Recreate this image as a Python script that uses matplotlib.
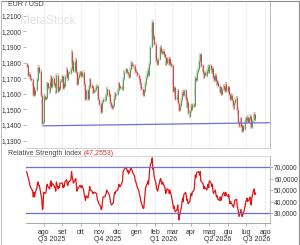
import numpy as np
import pandas as pd
import matplotlib
matplotlib.use('Agg')
import matplotlib.pyplot as plt
import matplotlib.dates as mdates
import matplotlib.transforms as mtransforms
from matplotlib.lines import Line2D

plt.rcParams['font.family'] = ['Liberation Sans', 'DejaVu Sans']

# Daily closes of EUR/USD, one list per month (business days)
close_jul25 = [1.1780, 1.1720, 1.1725, 1.1715, 1.1700, 1.1690, 1.1665, 1.1600, 1.1640, 1.1595,
               1.1625, 1.1690, 1.1750, 1.1770, 1.1740, 1.1745, 1.1590, 1.1545, 1.1410, 1.1420]
close_aug25 = [1.1585, 1.1570, 1.1575, 1.1660, 1.1665, 1.1640, 1.1615, 1.1675, 1.1705, 1.1645,
               1.1700, 1.1665, 1.1650, 1.1650, 1.1610, 1.1720, 1.1620, 1.1640, 1.1630, 1.1680, 1.1685]
close_sep25 = [1.1710, 1.1640, 1.1660, 1.1650, 1.1715, 1.1760, 1.1710, 1.1695, 1.1735, 1.1735,
               1.1760, 1.1865, 1.1810, 1.1785, 1.1745, 1.1800, 1.1815, 1.1740, 1.1665, 1.1700,
               1.1725, 1.1735]
close_oct25 = [1.1730, 1.1715, 1.1740, 1.1710, 1.1660, 1.1630, 1.1565, 1.1620, 1.1570, 1.1600,
               1.1645, 1.1690, 1.1655, 1.1645, 1.1610, 1.1610, 1.1620, 1.1625, 1.1645, 1.1650,
               1.1600, 1.1565, 1.1535]
close_nov25 = [1.1520, 1.1485, 1.1495, 1.1545, 1.1565, 1.1560, 1.1585, 1.1590, 1.1630, 1.1620,
               1.1595, 1.1580, 1.1545, 1.1525, 1.1510, 1.1520, 1.1570, 1.1600, 1.1595, 1.1600]
close_dec25 = [1.1610, 1.1625, 1.1665, 1.1645, 1.1640, 1.1640, 1.1630, 1.1695, 1.1740, 1.1740,
               1.1755, 1.1745, 1.1740, 1.1725, 1.1710, 1.1760, 1.1795, 1.1790, 1.1785, 1.1775,
               1.1770, 1.1745, 1.1745]
close_jan26 = [1.1740, 1.1720, 1.1700, 1.1680, 1.1670, 1.1650, 1.1630, 1.1600, 1.1590, 1.1620,
               1.1660, 1.1700, 1.1730, 1.1750, 1.1720, 1.1790, 1.1900, 1.2000, 1.2060, 1.1960,
               1.1970, 1.1920]
close_feb26 = [1.1850, 1.1815, 1.1800, 1.1790, 1.1820, 1.1890, 1.1900, 1.1870, 1.1860, 1.1875,
               1.1850, 1.1835, 1.1790, 1.1800, 1.1825, 1.1810, 1.1790, 1.1820, 1.1795, 1.1780]
close_mar26 = [1.1680, 1.1620, 1.1640, 1.1600, 1.1565, 1.1580, 1.1620, 1.1540, 1.1495, 1.1520,
               1.1560, 1.1600, 1.1610, 1.1590, 1.1620, 1.1580, 1.1570, 1.1520, 1.1545, 1.1480,
               1.1460, 1.1490]
close_apr26 = [1.1520, 1.1500, 1.1530, 1.1525, 1.1610, 1.1700, 1.1690, 1.1740, 1.1760, 1.1810,
               1.1835, 1.1850, 1.1780, 1.1760, 1.1740, 1.1710, 1.1720, 1.1735, 1.1720, 1.1745,
               1.1770, 1.1740]
close_may26 = [1.1780, 1.1760, 1.1740, 1.1765, 1.1710, 1.1690, 1.1720, 1.1680, 1.1660, 1.1675,
               1.1650, 1.1620, 1.1640, 1.1615, 1.1600, 1.1630, 1.1650, 1.1640, 1.1620, 1.1660, 1.1640]
close_jun26 = [1.1620, 1.1640, 1.1600, 1.1570, 1.1590, 1.1560, 1.1530, 1.1510, 1.1540, 1.1565,
               1.1570, 1.1500, 1.1480, 1.1420, 1.1395, 1.1440, 1.1400, 1.1360, 1.1390, 1.1375,
               1.1420, 1.1440]
close_jul26 = [1.1430, 1.1450, 1.1420, 1.1440, 1.1455, 1.1400, 1.1385, 1.1430, 1.1460, 1.1470,
               1.1440, 1.1450]

# RSI values, same days
rsi_jul25 = [66, 60, 58, 55, 53, 52, 49, 44, 48, 44, 47, 52, 56, 57, 54, 54, 45, 42, 33, 34]
rsi_aug25 = [48, 47, 48, 54, 55, 53, 51, 56, 58, 53, 56, 54, 52, 52, 49, 57, 51, 53, 52, 56, 56]
rsi_sep25 = [56, 52, 54, 53, 57, 59, 55, 54, 57, 57, 59, 66, 62, 59, 56, 59, 60, 54, 49, 51, 53, 54]
rsi_oct25 = [53, 52, 54, 50, 46, 44, 41, 45, 43, 46, 49, 53, 50, 49, 47, 47, 48, 48, 47, 44,
             41, 40, 38]
rsi_nov25 = [36, 33, 34, 40, 44, 44, 46, 47, 50, 49, 46, 44, 40, 38, 37, 39, 45, 48, 47, 49]
rsi_dec25 = [50, 52, 55, 53, 53, 56, 58, 66, 67, 68, 70, 68, 66, 67, 64, 68, 69, 68, 67, 65,
             62, 58, 57]
rsi_jan26 = [55, 53, 49, 46, 44, 41, 39, 34, 34, 40, 46, 52, 56, 58, 55, 62, 70, 75, 78, 68, 69, 62]
rsi_feb26 = [56, 52, 50, 49, 52, 59, 60, 57, 55, 57, 53, 52, 47, 48, 51, 50, 47, 50, 48, 46]
rsi_mar26 = [38, 34, 36, 33, 31, 33, 37, 30, 24, 28, 35, 39, 43, 40, 46, 48, 45, 41, 42, 38, 40, 44]
rsi_apr26 = [47, 45, 48, 50, 56, 63, 61, 65, 66, 65, 63, 66, 58, 56, 55, 51, 53, 52, 50, 53, 55, 52]
rsi_may26 = [58, 56, 53, 55, 49, 47, 50, 46, 44, 45, 42, 41, 44, 41, 42, 45, 48, 46, 45, 48, 46]
rsi_jun26 = [44, 46, 42, 38, 40, 37, 36, 35, 38, 41, 42, 36, 34, 30, 27, 33, 30, 27, 30, 29, 36, 40]
rsi_jul26 = [41, 43, 40, 42, 44, 38, 37, 43, 50, 51, 46, 47.2553]

closes = (close_jul25 + close_aug25 + close_sep25 + close_oct25 + close_nov25 + close_dec25 +
          close_jan26 + close_feb26 + close_mar26 + close_apr26 + close_may26 + close_jun26 +
          close_jul26)
rsi = (rsi_jul25 + rsi_aug25 + rsi_sep25 + rsi_oct25 + rsi_nov25 + rsi_dec25 + rsi_jan26 +
       rsi_feb26 + rsi_mar26 + rsi_apr26 + rsi_may26 + rsi_jun26 + rsi_jul26)
first_open = 1.1790
dates = pd.bdate_range('2025-07-04', periods=len(closes))

# Support line (start, end)
trend_dates = ['2025-08-01', '2026-08-09']
trend_values = [1.1395, 1.1415]

month_ticks = pd.date_range('2025-08-01', '2026-08-01', freq='MS')
month_labels = ['ago', 'set', 'ott', 'nov', 'dic', 'gen', 'feb', 'mar', 'apr', 'mag',
                'giu', 'lug', 'ago']
quarter_labels = ['Q3 2025', 'Q4 2025', 'Q1 2026', 'Q2 2026', 'Q3 2026']
quarter_dates = ['2025-08-15', '2025-11-15', '2026-02-14', '2026-05-15', '2026-08-09']

price_ticks = [1.13, 1.14, 1.15, 1.16, 1.17, 1.18, 1.19, 1.20, 1.21]
rsi_ticks = [30, 40, 50, 60, 70]
rsi_levels = [30, 70]
rsi_last = rsi[-1]

W, H = 300, 245
fig = plt.figure(figsize=(W / 100, H / 100), dpi=100)
fig.patch.set_facecolor('white')

def box(x0, y0, x1, y1):
    return [x0 / W, 1 - y1 / H, (x1 - x0) / W, (y1 - y0) / H]

ax = fig.add_axes(box(26, 2, 270, 148))
ax2 = fig.add_axes(box(26, 156, 270, 223))

x = mdates.date2num(dates)
c = np.array(closes)
o = np.array([first_open] + closes[:-1])
up = c >= o
cols = np.where(up, '#5a9e5a', '#cc4a4a')
lo = np.minimum(o, c)
hi = np.maximum(o, c)
wick = 0.0013
ax.vlines(x, lo - wick, hi + wick, colors=cols, lw=0.35)
ax.vlines(x, lo, hi + 0.0002, colors=cols, lw=0.75)

ax.plot(mdates.datestr2num(trend_dates), trend_values, color='#6f6fd6', lw=0.9)

xmin = mdates.datestr2num('2025-07-03')
xmax = mdates.datestr2num('2026-08-09')
for a in (ax, ax2):
    a.set_xlim(xmin, xmax)
    a.set_xticks(mdates.date2num(month_ticks))
    a.grid(axis='x', color='#d6d6d6', lw=0.5, ls=(0, (1.5, 1.5)))
    a.set_axisbelow(True)
    a.spines['left'].set_visible(False)
    a.spines['right'].set_color('#b0b0b0')
    a.spines['top'].set_color('#d0d0d0')
    a.spines['bottom'].set_color('#c8c8c8')
    for s in a.spines.values():
        s.set_linewidth(0.6)

ax.spines['top'].set_visible(False)
ax.set_ylim(1.1253, 1.2188)
ax.set_yticks(price_ticks)
ax.set_yticklabels(['{:.4f}'.format(v).replace('.', ',') for v in price_ticks])
ax.tick_params(axis='y', labelsize=4.7, length=2.5, width=0.5, color='#999999',
               labelcolor='#333333', pad=0.8)
ax.tick_params(axis='x', length=0, labelbottom=False)

ax2.plot(x, rsi, color='#e01515', lw=0.9)
for lv in rsi_levels:
    ax2.axhline(lv, color='#6f6fd6', lw=0.9)
ax2.set_ylim(21.3, 79.6)
ax2.yaxis.tick_right()
ax2.set_yticks(rsi_ticks)
ax2.set_yticklabels(['{:.4f}'.format(v).replace('.', ',') for v in rsi_ticks])
ax2.tick_params(axis='y', labelsize=4.8, length=2, width=0.5, color='#999999',
                labelcolor='#333333', pad=1)
ax2.set_xticklabels(month_labels)
ax2.tick_params(axis='x', labelsize=5, length=2, width=0.5, color='#999999',
                labelcolor='#333333', pad=2)
ax2.spines['bottom'].set_color('#999999')

trans = mtransforms.blended_transform_factory(ax2.transData, ax2.transAxes)
for lab, d in zip(quarter_labels, quarter_dates):
    ha = 'right' if lab == quarter_labels[-1] else 'center'
    ax2.text(mdates.datestr2num(d), -0.24, lab, transform=trans, ha=ha, va='center',
             fontsize=5, color='#333333')

# Titles and watermark
fig.text(8 / W, 1 - 4.5 / H, 'EUR / USD', fontsize=5, color='#444444', va='center')
fig.text(48 / W, 1 - 21 / H, 'MetaStock', fontsize=8.5, color='#e2e2e2', ha='center',
         va='center')
t1 = fig.text(8 / W, 1 - 153 / H, 'Relative Strength Index ', fontsize=5, color='#444444',
              va='center')
fig.canvas.draw()
bb = t1.get_window_extent()
fig.text(bb.x1 / W, 1 - 153 / H, '({:.4f})'.format(rsi_last).replace('.', ','),
         fontsize=5, color='#e03030', va='center')

# Outer frame
fig.add_artist(Line2D([0.5 / W, 298.5 / W], [1 - 1 / H, 1 - 1 / H], transform=fig.transFigure,
                      color='#909090', lw=0.8))
fig.add_artist(Line2D([0.5 / W, 0.5 / W], [0, 1 - 1 / H], transform=fig.transFigure,
                      color='#b0b0b0', lw=0.6))
fig.add_artist(Line2D([298.5 / W, 298.5 / W], [0, 1 - 1 / H], transform=fig.transFigure,
                      color='#909090', lw=0.8))

fig.savefig('out.png', dpi=100)
